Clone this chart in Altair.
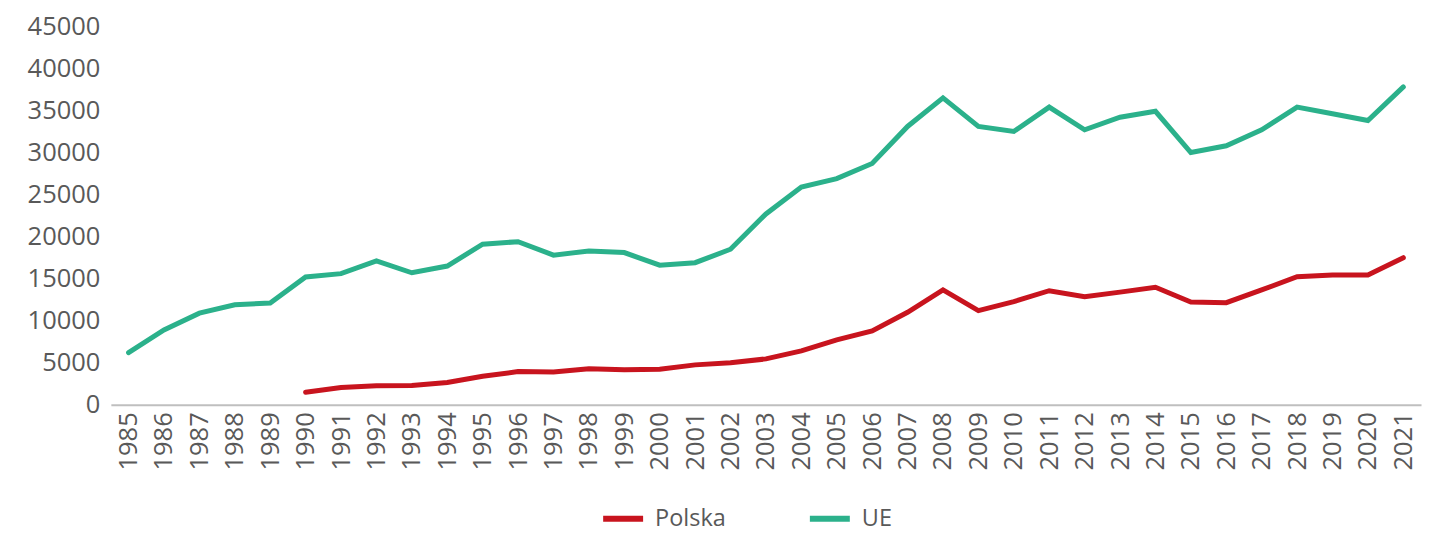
import altair as alt
import pandas as pd

years = list(range(1985, 2022))

ue = [6200, 8900, 10900, 11900, 12100, 15200, 15600, 17100, 15700, 16500,
      19100, 19400, 17800, 18300, 18100, 16600, 16900, 18500, 22700, 25900,
      26900, 28700, 33100, 36500, 33100, 32500, 35400, 32700, 34200, 34900,
      30000, 30800, 32700, 35400, 34600, 33800, 37800]

polska_years = list(range(1990, 2022))
polska = [1500, 2050, 2260, 2300, 2650, 3400, 3950, 3900, 4280, 4160,
          4240, 4750, 4990, 5460, 6410, 7720, 8790, 11000, 13660, 11200,
          12270, 13570, 12860, 13400, 13980, 12230, 12150, 13660, 15240, 15440,
          15440, 17500]

series_names = ["Polska", "UE"]
series_colors = ["#c8141e", "#2bb18b"]
y_ticks = list(range(0, 45001, 5000))

rows = []
for y, v in zip(polska_years, polska):
    rows.append({"rok": str(y), "wartosc": v, "seria": "Polska"})
for y, v in zip(years, ue):
    rows.append({"rok": str(y), "wartosc": v, "seria": "UE"})
df = pd.DataFrame(rows)

FONT = "Open Sans"
TXT = "#595959"
FS = 25.5

chart = alt.Chart(df).mark_line(strokeWidth=5, strokeCap="round").encode(
    x=alt.X("rok:O",
            sort=[str(y) for y in years],
            scale=alt.Scale(type="point", padding=0.5, domain=[str(y) for y in years]),
            axis=alt.Axis(title=None, labelAngle=270, labelAlign="right", labelBaseline="middle",
                          labelPadding=7, ticks=False, domain=True, domainColor="#bfbfbf",
                          domainWidth=2, labelFont=FONT, labelFontSize=FS, labelColor=TXT,
                          grid=False)),
    y=alt.Y("wartosc:Q",
            scale=alt.Scale(domain=[0, 45000], nice=False),
            axis=alt.Axis(title=None, values=y_ticks, ticks=False, domain=False, grid=False,
                          labelPadding=11, labelFont=FONT, labelFontSize=FS, labelColor=TXT,
                          format="d")),
    color=alt.Color("seria:N",
                    scale=alt.Scale(domain=series_names, range=series_colors),
                    legend=alt.Legend(title=None, orient="none", direction="horizontal",
                                      legendX=490, legendY=470,
                                      symbolType="stroke", symbolSize=1600, symbolStrokeWidth=6,
                                      labelFont=FONT, labelFontSize=23.5, labelColor=TXT,
                                      labelOffset=9, columnPadding=72, padding=0)),
    order=alt.Order("rok:O"),
).properties(
    width=1312,
    height=379,
    background="white",
    autosize=alt.AutoSizeParams(type="none"),
    padding={"left": 103, "top": 18, "right": 10, "bottom": 140},
).configure_view(stroke=None)

chart.save("out.html", embed_options={"renderer": "svg", "actions": False})
